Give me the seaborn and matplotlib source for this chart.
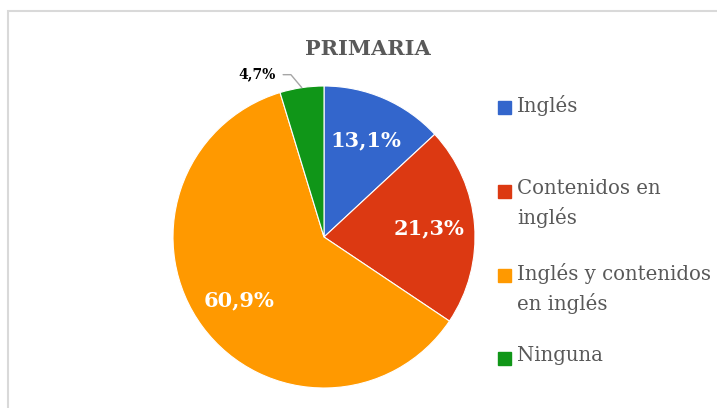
import numpy as np
import seaborn as sns
import matplotlib.pyplot as plt
from matplotlib.patches import Rectangle

# datos del gráfico
categorias = ['Inglés', 'Contenidos en inglés', 'Inglés y contenidos en inglés', 'Ninguna']
etiquetas_leyenda = ['Inglés', 'Contenidos en\ninglés', 'Inglés y contenidos\nen inglés', 'Ninguna']
porcentajes = [13.1, 21.3, 60.9, 4.7]
colores = ['#3366CC', '#DC3912', '#FF9900', '#109618']

sns.set_theme(style='white')
plt.rcParams['font.family'] = ['DejaVu Serif']

W, H = 717, 408
fig = plt.figure(figsize=(W / 100, H / 100), dpi=100)

# marco del gráfico
fig.patches.append(Rectangle((8 / W, -0.05), 1.0, (H - 11) / H + 0.05, transform=fig.transFigure,
                             fill=False, edgecolor='#d9d9d9', linewidth=1.5))

cx, cy, r = 324, 237, 151
ax = fig.add_axes([(cx - r) / W, (H - cy - r) / H, 2 * r / W, 2 * r / H])

pal = sns.color_palette(colores)
wedges, texts, autotexts = ax.pie(
    porcentajes, colors=pal, startangle=90, counterclock=False,
    autopct=lambda p: f'{p:.1f}%'.replace('.', ','), pctdistance=0.70,
    wedgeprops={'linewidth': 0.8, 'edgecolor': 'white'},
    textprops={'color': 'white', 'fontsize': 15, 'fontweight': 'bold'})
ax.set_xlim(-1, 1)
ax.set_ylim(-1, 1)
ax.set_aspect('equal')

# etiqueta exterior para la porción pequeña
w = wedges[-1]
ang = np.deg2rad((w.theta1 + w.theta2) / 2)
autotexts[-1].set_visible(False)
ax.annotate(autotexts[-1].get_text(), xy=(np.cos(ang), np.sin(ang)), xytext=(-0.32, 1.075),
            ha='right', va='center', fontsize=10, fontweight='bold', color='black',
            annotation_clip=False,
            arrowprops=dict(arrowstyle='-', color='#a6a6a6', lw=1,
                            connectionstyle='angle,angleA=0,angleB=-50,rad=0',
                            shrinkA=3, shrinkB=0))

fig.text(368 / W, 1 - 49 / H, 'PRIMARIA', ha='center', va='center',
         fontsize=15, fontweight='bold', color='#595959')

# leyenda manual
ys = [107, 191, 275, 358]
for lab, col, y in zip(etiquetas_leyenda, pal, ys):
    fig.patches.append(Rectangle((498 / W, 1 - (y + 6.5) / H), 13 / W, 13 / H,
                                 transform=fig.transFigure, color=col))
    fig.text(517 / W, 1 - (y - 12) / H, lab, ha='left', va='top', fontsize=14.2,
             color='#595959', linespacing=1.55)

fig.savefig('out.png', dpi=100)
